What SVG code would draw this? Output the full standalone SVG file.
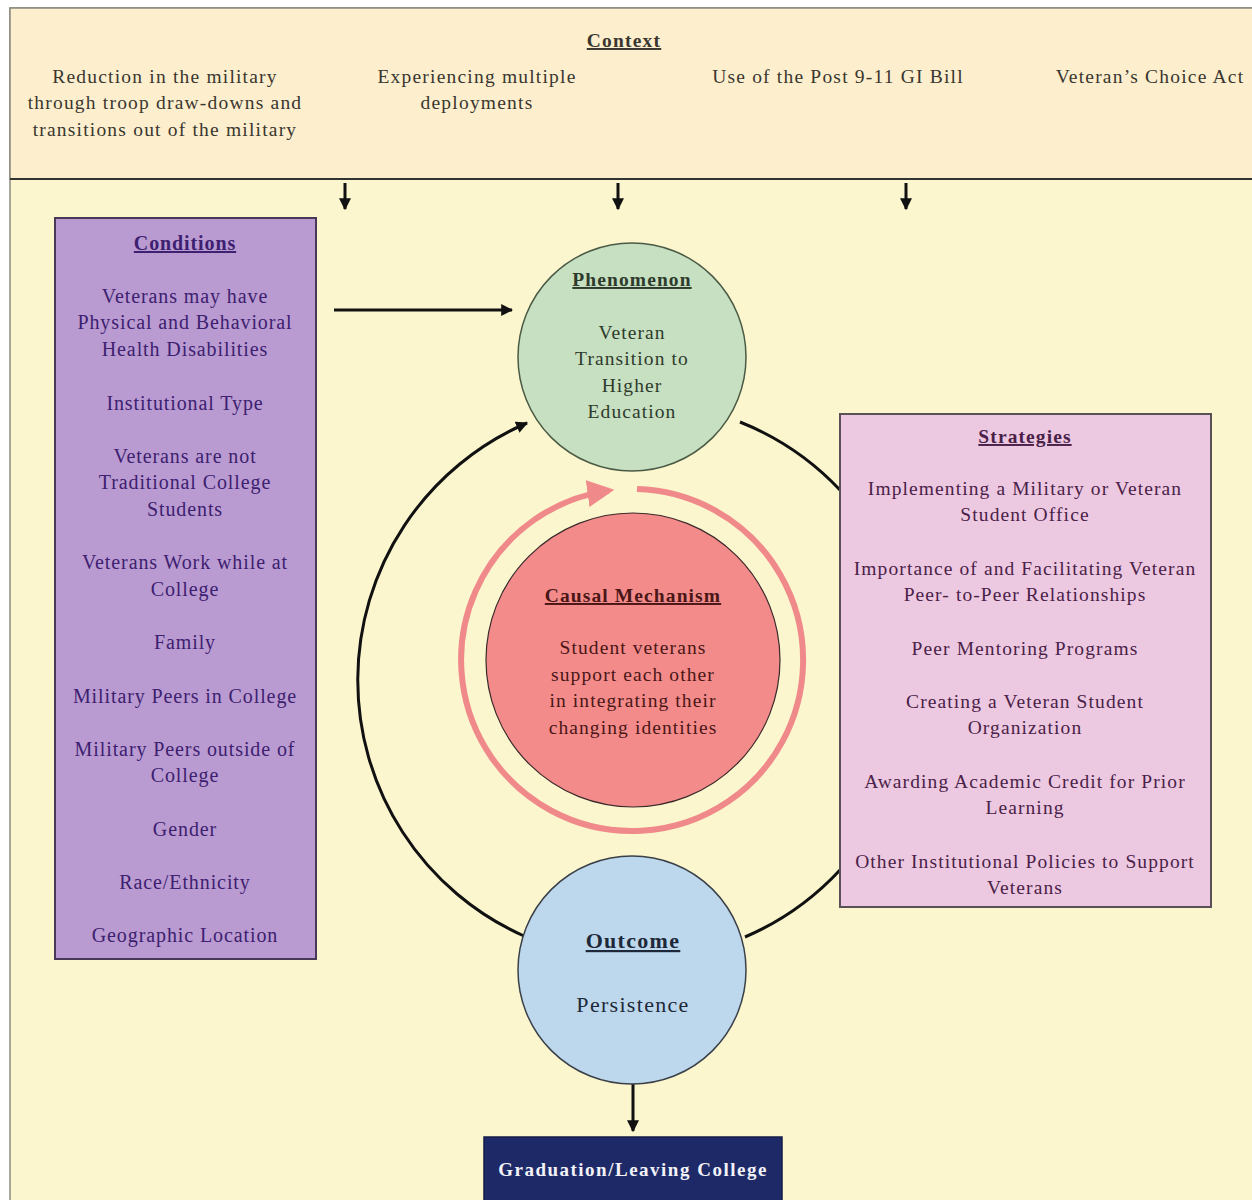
<svg xmlns="http://www.w3.org/2000/svg" width="1252" height="1200" viewBox="0 0 1252 1200">
<defs>
<style>
text{font-family:"Liberation Serif","Times New Roman",serif;text-anchor:middle}
.ctx{font-size:19.5px;fill:#3a3630;letter-spacing:1.2px}
.h{font-weight:bold;text-decoration:underline}
.cond{font-size:20px;fill:#3d2070;letter-spacing:0.9px}
.strat{font-size:19.5px;fill:#4a2148;letter-spacing:1.1px}
.phen{font-size:19.5px;fill:#2e3a2c;letter-spacing:1.1px}
.caus{font-size:19.5px;fill:#4a1616;letter-spacing:1.1px}
.out{font-size:22px;fill:#1e2838;letter-spacing:1.3px}
.conn{fill:none;stroke:#111;stroke-width:3}
</style>
<marker id="ah" viewBox="0 0 10 10" refX="9" refY="5" markerWidth="4" markerHeight="4" orient="auto"><path d="M0,0 L10,5 L0,10 z" fill="#111"/></marker>
<marker id="ahr" viewBox="0 0 10 10" refX="8" refY="5" markerWidth="4.5" markerHeight="4.5" orient="auto"><path d="M0,0 L10,5 L0,10 z" fill="#f08a8a"/></marker>
</defs>
<rect x="0" y="0" width="1252" height="1200" fill="#ffffff"/>
<rect id="bg" x="10" y="8" width="1250" height="1200" fill="#fcf6cf" stroke="#8a8a80" stroke-width="1.5"/>
<g id="context">
<rect x="10" y="8" width="1250" height="171" fill="#fdefcd" stroke="#8a8a80" stroke-width="1.5"/>
<line x1="10" y1="179" x2="1252" y2="179" stroke="#333" stroke-width="2"/>
<text class="ctx h" x="624" y="47">Context</text>
<text class="ctx" x="165" y="83">Reduction in the military</text>
<text class="ctx" x="165" y="109">through troop draw-downs and</text>
<text class="ctx" x="165" y="136">transitions out of the military</text>
<text class="ctx" x="477" y="83">Experiencing multiple</text>
<text class="ctx" x="477" y="109">deployments</text>
<text class="ctx" x="838" y="83">Use of the Post 9-11 GI Bill</text>
<text class="ctx" x="1150" y="83">Veteran’s Choice Act</text>
</g>
<g id="connectors">
<line class="conn" x1="345" y1="183" x2="345" y2="209" stroke-width="2.5" marker-end="url(#ah)"/>
<line class="conn" x1="618" y1="183" x2="618" y2="209" stroke-width="2.5" marker-end="url(#ah)"/>
<line class="conn" x1="906" y1="183" x2="906" y2="209" stroke-width="2.5" marker-end="url(#ah)"/>
<line class="conn" x1="334" y1="310" x2="512" y2="310" marker-end="url(#ah)"/>
<path class="conn" d="M524,936 A280,280 0 0 1 527,423" marker-end="url(#ah)"/>
<path class="conn" d="M740,422 A280,280 0 0 1 840,490"/>
<path class="conn" d="M840,870 A280,280 0 0 1 745,937"/>
<line class="conn" x1="633" y1="1084" x2="633" y2="1131" marker-end="url(#ah)"/>
<path d="M637,489.1 A171,171 0 1 1 609,490.6" fill="none" stroke="#f08a8a" stroke-width="6" marker-end="url(#ahr)"/>
</g>
<g id="conditions">
<rect x="55" y="218" width="261" height="741" fill="#b99bd1" stroke="#4a3858" stroke-width="2"/>
<text class="cond h" x="185" y="250">Conditions</text>
<text class="cond" x="185" y="303">Veterans may have</text>
<text class="cond" x="185" y="329">Physical and Behavioral</text>
<text class="cond" x="185" y="356">Health Disabilities</text>
<text class="cond" x="185" y="410">Institutional Type</text>
<text class="cond" x="185" y="463">Veterans are not</text>
<text class="cond" x="185" y="489">Traditional College</text>
<text class="cond" x="185" y="516">Students</text>
<text class="cond" x="185" y="569">Veterans Work while at</text>
<text class="cond" x="185" y="596">College</text>
<text class="cond" x="185" y="649">Family</text>
<text class="cond" x="185" y="703">Military Peers in College</text>
<text class="cond" x="185" y="756">Military Peers outside of</text>
<text class="cond" x="185" y="782">College</text>
<text class="cond" x="185" y="836">Gender</text>
<text class="cond" x="185" y="889">Race/Ethnicity</text>
<text class="cond" x="185" y="942">Geographic Location</text>
</g>
<g id="phenomenon">
<circle cx="632" cy="357" r="114" fill="#c6e0c1" stroke="#4a5a44" stroke-width="1.5"/>
<text class="phen h" x="632" y="286">Phenomenon</text>
<text class="phen" x="632" y="339">Veteran</text>
<text class="phen" x="632" y="365">Transition to</text>
<text class="phen" x="632" y="392">Higher</text>
<text class="phen" x="632" y="418">Education</text>
</g>
<g id="causal">
<circle cx="633" cy="660" r="147" fill="#f48b8b" stroke="#3a2a2a" stroke-width="1.2"/>
<text class="caus h" x="633" y="602">Causal Mechanism</text>
<text class="caus" x="633" y="654">Student veterans</text>
<text class="caus" x="633" y="681">support each other</text>
<text class="caus" x="633" y="707">in integrating their</text>
<text class="caus" x="633" y="734">changing identities</text>
</g>
<g id="strategies">
<rect x="840" y="414" width="371" height="493" fill="#edc9e1" stroke="#5a5058" stroke-width="2"/>
<text class="strat h" x="1025" y="443">Strategies</text>
<text class="strat" x="1025" y="495">Implementing a Military or Veteran</text>
<text class="strat" x="1025" y="521">Student Office</text>
<text class="strat" x="1025" y="575">Importance of and Facilitating Veteran</text>
<text class="strat" x="1025" y="601">Peer- to-Peer Relationships</text>
<text class="strat" x="1025" y="655">Peer Mentoring Programs</text>
<text class="strat" x="1025" y="708">Creating a Veteran Student</text>
<text class="strat" x="1025" y="734">Organization</text>
<text class="strat" x="1025" y="788">Awarding Academic Credit for Prior</text>
<text class="strat" x="1025" y="814">Learning</text>
<text class="strat" x="1025" y="868">Other Institutional Policies to Support</text>
<text class="strat" x="1025" y="894">Veterans</text>
</g>
<g id="outcome">
<circle cx="632" cy="970" r="114" fill="#bdd8ec" stroke="#3a4048" stroke-width="1.5"/>
<text class="out h" x="633" y="948">Outcome</text>
<text class="out" x="633" y="1012">Persistence</text>
</g>
<g id="graduation">
<rect x="484" y="1137" width="298" height="66" fill="#1e2a68" stroke="#141c48" stroke-width="1.5"/>
<text x="633" y="1176" style="font-size:19px;font-weight:bold;fill:#f2f2f8;letter-spacing:1.5px">Graduation/Leaving College</text>
</g>
</svg>
